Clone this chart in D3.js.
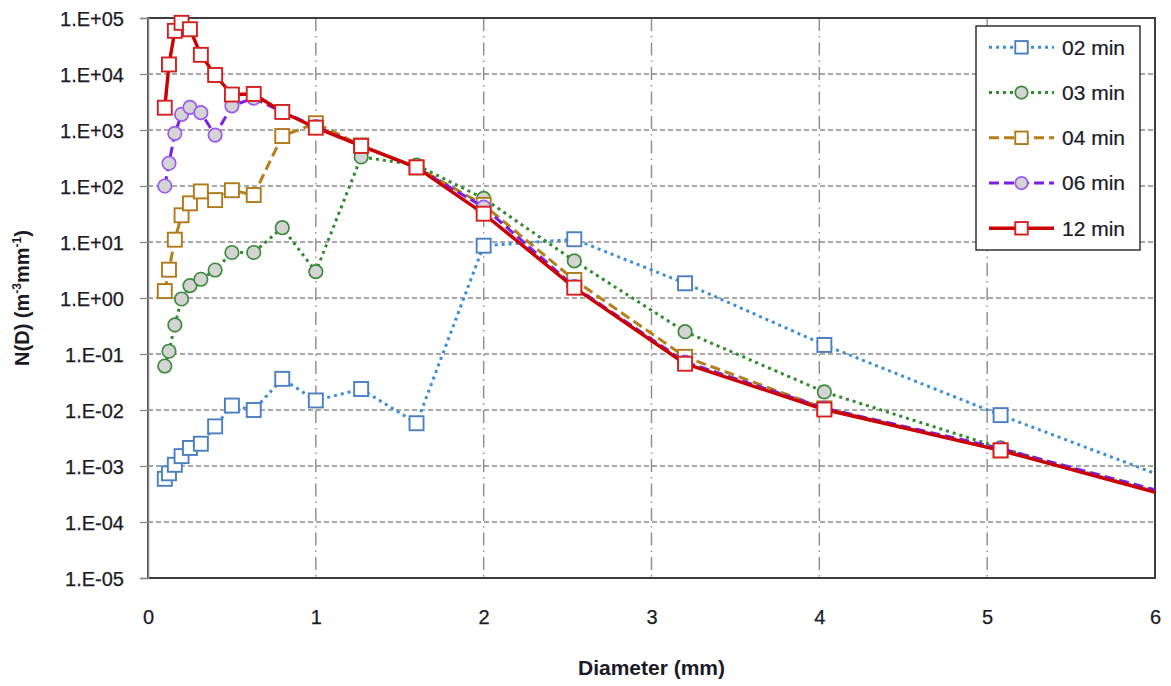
<!DOCTYPE html>
<html>
<head>
<meta charset="utf-8">
<script src="https://cdn.jsdelivr.net/npm/d3@7"></script>
<style>
  html, body { margin: 0; padding: 0; background: #ffffff; }
  svg { display: block; }
</style>
</head>
<body>
<script>
// ---------------- DATA ----------------
const diameters = [0.1, 0.125, 0.16, 0.2, 0.25, 0.315, 0.4, 0.5, 0.63, 0.8, 1.0, 1.27, 1.6, 2.0, 2.54, 3.2, 4.03, 5.08, 6.4];
const seriesNames = ["02 min", "03 min", "04 min", "06 min", "12 min"];
const min02 = [0.00059, 0.00074, 0.00105, 0.0015, 0.0021, 0.0025, 0.0051, 0.012, 0.010, 0.036, 0.0148, 0.0237, 0.0058, 8.6, 11.2, 1.83, 0.145, 0.0081, 0.00026];
const min03 = [0.061, 0.112, 0.33, 0.96, 1.66, 2.16, 3.16, 6.5, 6.5, 18, 2.95, 330, 237, 60, 4.6, 0.25, 0.021, 0.0021, 0.000155];
const min04 = [1.33, 3.2, 11, 30, 49, 80, 56, 84, 69, 780, 1320, 530, 215, 46, 2.1, 0.089, 0.0107, 0.0019, 0.00017];
const min06 = [100, 255, 870, 1900, 2540, 2040, 810, 2700, 3700, 2100, 1150, 520, 212, 42, 1.6, 0.072, 0.0108, 0.00205, 0.00018];
const min12 = [2500, 14800, 59000, 82000, 63000, 22000, 9600, 4300, 4400, 2100, 1100, 520, 215, 32, 1.53, 0.067, 0.0102, 0.0019, 0.00016];
const xTicks = [0, 1, 2, 3, 4, 5, 6];
const yTicks = [1e5, 1e4, 1e3, 1e2, 1e1, 1e0, 1e-1, 1e-2, 1e-3, 1e-4, 1e-5];
const yTickLabels = ["1.E+05", "1.E+04", "1.E+03", "1.E+02", "1.E+01", "1.E+00", "1.E-01", "1.E-02", "1.E-03", "1.E-04", "1.E-05"];
const xTitle = "Diameter (mm)";

// ---------------- STYLES ----------------
const styles = [
  { values: min02, line: "#3a8fd8", dash: "3,4", width: 3, marker: "square", mstroke: "#4a7fc1", mfill: "#ffffff" },
  { values: min03, line: "#2e8b2e", dash: "3,4", width: 3, marker: "circle", mstroke: "#3d8c3d", mfill: "#d4d4d4" },
  { values: min04, line: "#b5801c", dash: "10,5", width: 3, marker: "square", mstroke: "#b07a1a", mfill: "#ffffff" },
  { values: min06, line: "#7a1fe8", dash: "10,5", width: 3, marker: "circle", mstroke: "#9b59f0", mfill: "#d4d4d4" },
  { values: min12, line: "#cc0000", dash: null, width: 3.4, marker: "square", mstroke: "#d42020", mfill: "#ffffff" }
];

const W = 1171, H = 686;
const L = 148, R = 1155, T = 18, B = 578;
const FONT = "'Liberation Sans', Arial, sans-serif";
const TXT = "#1a1a26";

const svg = d3.select("body").append("svg").attr("width", W).attr("height", H);

const x = d3.scaleLinear().domain([0, 6]).range([L, R]);
const y = d3.scaleLog().domain([1e-5, 1e5]).range([B, T]);

svg.append("defs").append("clipPath").attr("id", "plotclip")
  .append("rect").attr("x", L).attr("y", T).attr("width", R - L).attr("height", B - T);

// gridlines
const grid = svg.append("g");
grid.selectAll("line.h").data(yTicks.slice(1, -1)).join("line")
  .attr("x1", L).attr("x2", R)
  .attr("y1", d => y(d)).attr("y2", d => y(d))
  .attr("stroke", "#8c8c8c").attr("stroke-width", 1.4).attr("stroke-dasharray", "5,3");
grid.selectAll("line.v").data(xTicks.slice(1, -1)).join("line")
  .attr("x1", d => x(d)).attr("x2", d => x(d))
  .attr("y1", T).attr("y2", B)
  .attr("stroke", "#8c8c8c").attr("stroke-width", 1.4).attr("stroke-dasharray", "13,5,1.5,5");

// frame
svg.append("rect").attr("x", L).attr("y", T).attr("width", R - L).attr("height", B - T)
  .attr("fill", "none").attr("stroke", "#3c3c3c").attr("stroke-width", 2);

// y axis
const yAxis = d3.axisLeft(y).tickValues(yTicks).tickFormat((d, i) => yTickLabels[i]).tickSize(8).tickPadding(16);
const gy = svg.append("g").attr("transform", `translate(${L},0)`).call(yAxis);
gy.select(".domain").attr("stroke", "#8a8a8a").attr("stroke-width", 1.5);
gy.selectAll(".tick line").attr("stroke", "#8a8a8a").attr("stroke-width", 1.3);
gy.selectAll(".tick text").attr("font-family", FONT)
  .attr("font-size", 20).attr("fill", TXT).attr("dy", "0.35em")
  .attr("stroke", TXT).attr("stroke-width", 0.25);

// x axis
const xAxis = d3.axisBottom(x).tickValues(xTicks).tickFormat(d3.format("d")).tickSize(0).tickPadding(32);
const gx = svg.append("g").attr("transform", `translate(0,${B})`).call(xAxis);
gx.select(".domain").remove();
gx.selectAll(".tick text").attr("font-family", FONT)
  .attr("font-size", 20).attr("fill", TXT)
  .attr("stroke", TXT).attr("stroke-width", 0.25);

// axis titles
svg.append("text").attr("x", (L + R) / 2).attr("y", 675).attr("text-anchor", "middle")
  .attr("font-family", FONT).attr("font-weight", "bold")
  .attr("font-size", 21).attr("fill", TXT).text(xTitle);

const yt = svg.append("text").attr("transform", `translate(29,${(T + B) / 2}) rotate(-90)`)
  .attr("text-anchor", "middle")
  .attr("font-family", FONT).attr("font-weight", "bold")
  .attr("font-size", 20).attr("fill", TXT);
yt.append("tspan").text("N(D) (m");
yt.append("tspan").attr("font-size", 12).attr("dy", -8).text("-3");
yt.append("tspan").attr("dy", 8).text("mm");
yt.append("tspan").attr("font-size", 12).attr("dy", -8).text("-1");
yt.append("tspan").attr("dy", 8).text(")");

// series
const lineGen = d3.line().x(d => x(d[0])).y(d => y(d[1]));
const plot = svg.append("g");

function drawMarker(g, type, cx, cy, size, st) {
  if (type === "square") {
    g.append("rect").attr("x", cx - size / 2).attr("y", cy - size / 2)
      .attr("width", size).attr("height", size)
      .attr("fill", st.mfill).attr("stroke", st.mstroke).attr("stroke-width", 1.9);
  } else {
    g.append("circle").attr("cx", cx).attr("cy", cy).attr("r", size / 2)
      .attr("fill", st.mfill).attr("stroke", st.mstroke).attr("stroke-width", 1.7);
  }
}

styles.forEach(st => {
  const pts = diameters.map((d, i) => [d, st.values[i]]);
  const g = plot.append("g");
  g.append("path").attr("d", lineGen(pts)).attr("clip-path", "url(#plotclip)")
    .attr("fill", "none").attr("stroke", st.line).attr("stroke-width", st.width)
    .attr("stroke-dasharray", st.dash).attr("stroke-linejoin", "round");
  pts.filter(p => p[0] <= 6).forEach(p => {
    drawMarker(g, st.marker, x(p[0]), y(p[1]), st.marker === "square" ? 14 : 13.5, st);
  });
});

// legend
const lg = svg.append("g");
lg.append("rect").attr("x", 976).attr("y", 26).attr("width", 164).attr("height", 224)
  .attr("fill", "#ffffff").attr("stroke", "#333333").attr("stroke-width", 1.5);
seriesNames.forEach((name, i) => {
  const st = styles[i];
  const cy = 47.3 + i * 45.25;
  const row = lg.append("g");
  row.append("line").attr("x1", 989).attr("x2", 1054).attr("y1", cy).attr("y2", cy)
    .attr("stroke", st.line).attr("stroke-width", st.width).attr("stroke-dasharray", st.dash);
  drawMarker(row, st.marker, 1021.5, cy, 12.5, st);
  row.append("text").attr("x", 1062).attr("y", cy).attr("dy", "0.35em")
    .attr("font-family", FONT).attr("font-size", 21)
    .attr("fill", TXT).attr("stroke", TXT).attr("stroke-width", 0.2).text(name);
});
</script>
</body>
</html>
